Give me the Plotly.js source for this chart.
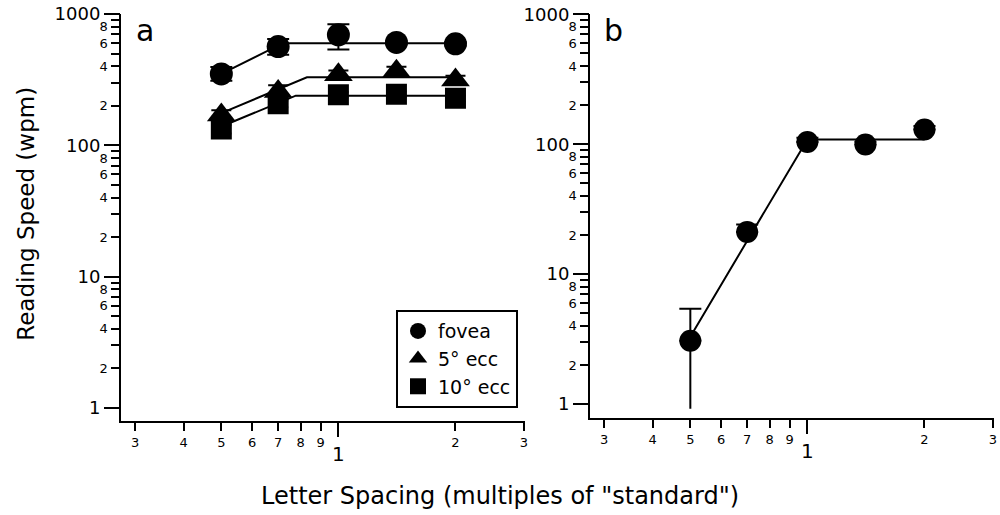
<!DOCTYPE html>
<html>
<head>
<meta charset="utf-8">
<script src="https://cdn.plot.ly/plotly-3.0.1.min.js"></script>
<style>html,body{margin:0;padding:0;background:#fff;}#chart{width:1000px;height:515px;}</style>
</head>
<body>
<div id="chart"></div>
<script>
// ---- data ----
const spacing = [0.5, 0.7, 1.0, 1.41, 2.0];

const foveaSpeed = [350, 565, 695, 607, 593];
const foveaErrPlus = [45, 80, 139, 20, 20];
const foveaErrMinus = [40, 75, 158, 20, 20];

const ecc5Speed = [170, 257, 344, 367, 314];
const ecc5Err = [15, 30, 27, 30, 25];

const ecc10Speed = [133, 207, 243, 245, 228];
const ecc10Err = [10, 12, 12, 12, 12];

const fitFoveaX = [0.5, 0.72, 2.0];
const fitFoveaY = [350, 600, 600];
const fitEcc5X = [0.5, 0.83, 2.0];
const fitEcc5Y = [176, 330, 330];
const fitEcc10X = [0.5, 0.777, 2.0];
const fitEcc10Y = [139, 239, 239];

const bSpeed = [3.07, 21.1, 104, 99.5, 130];
const bErrPlus = [2.35, 3.0, 8, 5, 8];
const bErrMinus = [2.15, 2.7, 8, 5, 8];
const fitBX = [0.5, 1.0, 2.0];
const fitBY = [3.3, 109, 109];

const seriesNames = ['fovea', '5\u00b0 ecc', '10\u00b0 ecc'];

// tick values / labels
const yDecadeVals = [1, 10, 100, 1000];
const yDecadeText = ['1', '10', '100', '1000'];
const yMinorVals = [2,3,4,5,6,7,8,9,20,30,40,50,60,70,80,90,200,300,400,500,600,700,800,900];
const yMinorText = ['2','','4','','6','','8','','2','','4','','6','','8','','2','','4','','6','','8',''];
const xMajorVals = [1];
const xMajorText = ['1'];
const xMinorVals = [0.3,0.4,0.5,0.6,0.7,0.8,0.9,2,3];
const xMinorText = ['3','4','5','6','7','8','9','2','3'];

const FONT = 'DejaVu Sans, Open Sans, sans-serif';
const K = '#000';

function errY(plus, minus, w) {
  return {type:'data', symmetric:false, array:plus, arrayminus:minus, color:K, thickness:2, width:w, visible:true};
}
const zeros = bSpeed.map(() => 0);

const traces = [
  // panel a fits
  {x:fitFoveaX, y:fitFoveaY, mode:'lines', line:{color:K, width:2}, showlegend:false, xaxis:'x', yaxis:'y', hoverinfo:'skip'},
  {x:fitEcc5X, y:fitEcc5Y, mode:'lines', line:{color:K, width:2}, showlegend:false, xaxis:'x', yaxis:'y', hoverinfo:'skip'},
  {x:fitEcc10X, y:fitEcc10Y, mode:'lines', line:{color:K, width:2}, showlegend:false, xaxis:'x', yaxis:'y', hoverinfo:'skip'},
  // panel a data
  {x:spacing, y:foveaSpeed, name:seriesNames[0], mode:'markers', marker:{symbol:'circle', size:23, color:K},
   error_y:errY(foveaErrPlus, foveaErrMinus, 11), xaxis:'x', yaxis:'y'},
  {x:spacing, y:ecc5Speed, name:seriesNames[1], mode:'markers', marker:{symbol:'triangle-up', size:25, color:K},
   error_y:errY(ecc5Err, ecc5Err, 10), xaxis:'x', yaxis:'y'},
  {x:spacing, y:ecc10Speed, name:seriesNames[2], mode:'markers', marker:{symbol:'square', size:21, color:K},
   error_y:errY(ecc10Err, ecc10Err, 10), xaxis:'x', yaxis:'y'},
  // panel b
  {x:fitBX, y:fitBY, mode:'lines', line:{color:K, width:2}, showlegend:false, xaxis:'x2', yaxis:'y2', hoverinfo:'skip'},
  // lower error bars without caps
  {x:spacing, y:bSpeed, mode:'markers', marker:{size:1, color:'rgba(0,0,0,0)'}, showlegend:false,
   error_y:errY(zeros, bErrMinus, 0), xaxis:'x2', yaxis:'y2', hoverinfo:'skip'},
  {x:spacing, y:bSpeed, mode:'markers', marker:{symbol:'circle', size:22, color:K}, showlegend:false,
   error_y:errY(bErrPlus, zeros, 11), xaxis:'x2', yaxis:'y2'},
  // empty traces to register the overlay axes
  {x:[], y:[], xaxis:'x3', yaxis:'y3', showlegend:false, mode:'markers'},
  {x:[], y:[], xaxis:'x4', yaxis:'y4', showlegend:false, mode:'markers'}
];

const xRange = [-0.559, 0.4785];
const yRangeA = [-0.097, 3.0];
const yRangeB = [-0.105, 3.0];
const xDomA = [0.121, 0.5245];
const xDomB = [0.590, 0.9935];
const yDomA = [0.1831, 0.9728];
const yDomB = [0.1889, 0.9722];

function xMinorAxis(domain, anchor) {
  return {type:'log', range:xRange, domain:domain, anchor:anchor, showline:true, linecolor:K, linewidth:2.5,
    showgrid:false, zeroline:false, ticks:'outside', ticklen:8, tickwidth:2, tickcolor:K,
    tickmode:'array', tickvals:xMinorVals, ticktext:xMinorText, tickfont:{family:FONT, size:13, color:K}, fixedrange:true};
}
function yMinorAxis(domain, anchor, range) {
  return {type:'log', range:range, domain:domain, anchor:anchor, showline:true, linecolor:K, linewidth:2.5,
    showgrid:false, zeroline:false, ticks:'outside', ticklen:8, tickwidth:2, tickcolor:K,
    tickmode:'array', tickvals:yMinorVals, ticktext:yMinorText, tickfont:{family:FONT, size:13, color:K}, fixedrange:true};
}
function xMajorAxis(over, anchor) {
  return {type:'log', range:xRange, overlaying:over, anchor:anchor, showline:false, showgrid:false, zeroline:false,
    ticks:'outside', ticklen:15, tickwidth:2, tickcolor:K, tickmode:'array', tickvals:xMajorVals, ticktext:xMajorText,
    tickfont:{family:FONT, size:20, color:K}, fixedrange:true};
}
function yMajorAxis(over, anchor, range) {
  return {type:'log', range:range, overlaying:over, anchor:anchor, side:'left', showline:false, showgrid:false, zeroline:false,
    ticks:'outside', ticklen:16, tickwidth:2, tickcolor:K, tickmode:'array', tickvals:yDecadeVals, ticktext:yDecadeText,
    tickfont:{family:FONT, size:18, color:K}, fixedrange:true};
}

const layout = {
  width:1000, height:515,
  margin:{l:0, r:0, t:0, b:0},
  paper_bgcolor:'#fff', plot_bgcolor:'rgba(0,0,0,0)',
  font:{family:FONT, color:K},
  xaxis: xMinorAxis(xDomA, 'y'),
  yaxis: yMinorAxis(yDomA, 'x', yRangeA),
  xaxis2: xMinorAxis(xDomB, 'y2'),
  yaxis2: yMinorAxis(yDomB, 'x2', yRangeB),
  xaxis3: Object.assign(xMajorAxis('x', 'y3'), {domain:xDomA}),
  yaxis3: Object.assign(yMajorAxis('y', 'x3', yRangeA), {domain:yDomA}),
  xaxis4: Object.assign(xMajorAxis('x2', 'y4'), {domain:xDomB}),
  yaxis4: Object.assign(yMajorAxis('y2', 'x4', yRangeB), {domain:yDomB}),
  showlegend:true,
  legend:{x:0.396, y:0.398, xanchor:'left', yanchor:'top', bordercolor:K, borderwidth:2, bgcolor:'#fff',
    font:{family:FONT, size:19, color:K}, itemsizing:'trace', tracegroupgap:0},
  annotations:[
    {text:'a', xref:'paper', yref:'paper', x:0.134, y:0.94, xanchor:'left', yanchor:'middle', showarrow:false,
     font:{family:FONT, size:30, color:K}},
    {text:'b', xref:'paper', yref:'paper', x:0.602, y:0.94, xanchor:'left', yanchor:'middle', showarrow:false,
     font:{family:FONT, size:30, color:K}},
    {text:'Reading Speed (wpm)', xref:'paper', yref:'paper', x:0.026, y:0.585, xanchor:'center', yanchor:'middle',
     textangle:-90, showarrow:false, font:{family:FONT, size:23, color:K}},
    {text:'Letter Spacing (multiples of "standard")', xref:'paper', yref:'paper', x:0.5, y:0.037, xanchor:'center', yanchor:'middle',
     showarrow:false, font:{family:FONT, size:24, color:K}}
  ]
};

Plotly.newPlot('chart', traces, layout, {displayModeBar:false, staticPlot:true});
</script>
</body>
</html>
